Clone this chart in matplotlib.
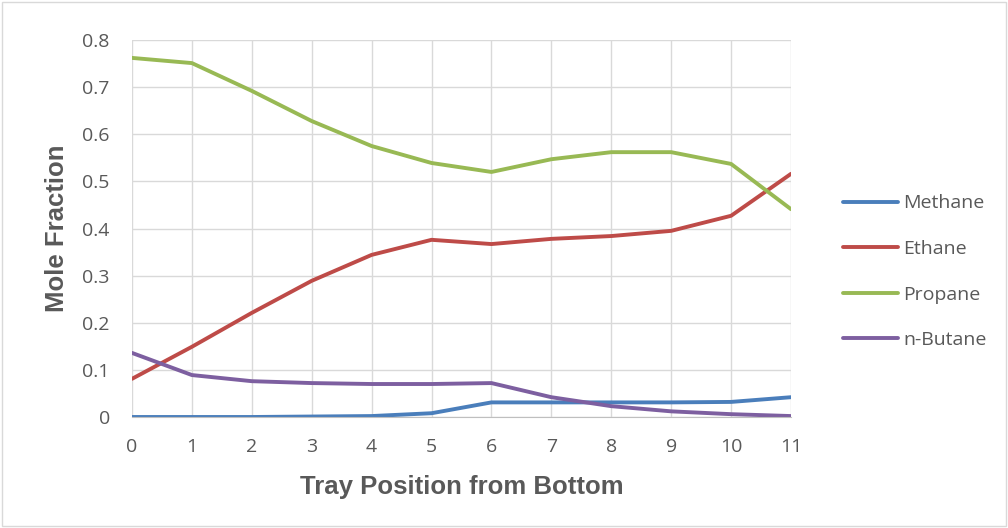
import matplotlib.pyplot as plt
from matplotlib.patches import Rectangle

trays = list(range(12))
methane = [0.0, 0.0, 0.0, 0.001, 0.002, 0.008, 0.031, 0.031, 0.031, 0.031, 0.032, 0.042]
ethane = [0.081, 0.149, 0.221, 0.289, 0.344, 0.376, 0.367, 0.378, 0.384, 0.395, 0.427, 0.516]
propane = [0.762, 0.751, 0.692, 0.628, 0.575, 0.539, 0.520, 0.547, 0.562, 0.562, 0.537, 0.441]
butane = [0.136, 0.089, 0.076, 0.072, 0.070, 0.070, 0.072, 0.042, 0.023, 0.012, 0.006, 0.002]

series = [("Methane", methane, "#4a7ebb"),
          ("Ethane", ethane, "#be4b48"),
          ("Propane", propane, "#98b954"),
          ("n-Butane", butane, "#7d5fa0")]

fig = plt.figure(figsize=(10.08, 5.28), dpi=100)
ax = fig.add_axes([132 / 1008, 1 - 417 / 528, (791 - 132) / 1008, (417 - 40) / 528])

# outer chart border
fig.patches.append(Rectangle((0.002, 0.004), 0.996, 0.992, transform=fig.transFigure,
                             fill=False, edgecolor="#d9d9d9", linewidth=1))

for name, vals, col in series:
    ax.plot(trays, vals, color=col, linewidth=2.8, label=name, solid_capstyle="round")

ax.set_xlim(0, 11)
ax.set_ylim(0, 0.8)
ax.set_xticks(trays)
ax.set_yticks([i / 10 for i in range(9)])
ax.set_yticklabels(["0"] + [f"{i / 10:.1f}" for i in range(1, 9)])
ax.grid(True, color="#d9d9d9", linewidth=1)
ax.set_axisbelow(True)
for s in ["top", "right", "left"]:
    ax.spines[s].set_visible(False)
ax.spines["bottom"].set_color("#bfbfbf")
ax.tick_params(length=0, labelsize=14, labelcolor="#595959")
ax.tick_params(axis="x", pad=15)
ax.tick_params(axis="y", pad=16)
for lab in ax.get_xticklabels() + ax.get_yticklabels():
    lab.set_fontfamily("Open Sans")

ax.set_xlabel("Tray Position from Bottom", fontsize=18.5, fontweight="bold",
              color="#595959", family="Liberation Sans")
ax.set_ylabel("Mole Fraction", fontsize=18.5, fontweight="bold",
              color="#595959", family="Liberation Sans")
ax.xaxis.set_label_coords(0.5, -0.155)
ax.yaxis.set_label_coords(-0.096, 0.5)

leg = ax.legend(loc="center left", bbox_to_anchor=(1.079, 0.385), frameon=False,
                prop={"family": "Open Sans", "size": 14}, handlelength=2.85,
                handletextpad=0.25, labelspacing=1.42, borderaxespad=0, borderpad=0)
for t in leg.get_texts():
    t.set_color("#595959")

fig.savefig("out.png", dpi=100)
